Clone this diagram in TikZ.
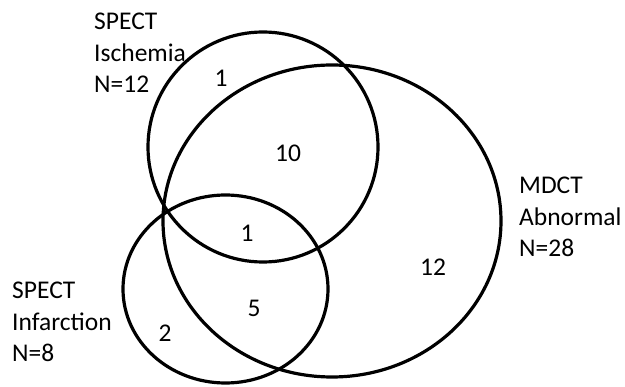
\documentclass[tikz,border=0pt]{standalone}
\usepackage{fontspec}
\setmainfont{Carlito}
\usepackage{tikz}
\tikzset{
  conjunto/.style={draw, line width=3.2pt},
  rotulo/.style={align=left, anchor=west, inner sep=0pt, font=\fontsize{25.5}{31.5}\selectfont},
  numero/.style={inner sep=0pt, font=\fontsize{25.5}{30}\selectfont},
}

\begin{document}
\begin{tikzpicture}[x=1pt, y=-1pt]
  \useasboundingbox (0,0) rectangle (625,387);
  % conjuntos
  \draw[conjunto] (263,147) ellipse [x radius=115, y radius=115];
  \draw[conjunto] (332,221) ellipse [x radius=169, y radius=156];
  \draw[conjunto] (225.5,289) ellipse [x radius=102.5, y radius=94];
  % rotulos
  \node[rotulo] (isq) at (94,53) {SPECT\\Ischemia\\N=12};
  \node[rotulo] (mdct) at (519,217) {MDCT\\Abnormal\\N=28};
  \node[rotulo] (inf) at (12,322) {SPECT\\Infarction\\N=8};
  % contagens
  \node[numero] (soIsq) at (221,78) {1};
  \node[numero] (isqMdct) at (288,153) {10};
  \node[numero] (tres) at (247,233) {1};
  \node[numero] (infMdct) at (254,308) {5};
  \node[numero] (soInf) at (165,333) {2};
  \node[numero] (soMdct) at (433,267) {12};
\end{tikzpicture}
\end{document}
